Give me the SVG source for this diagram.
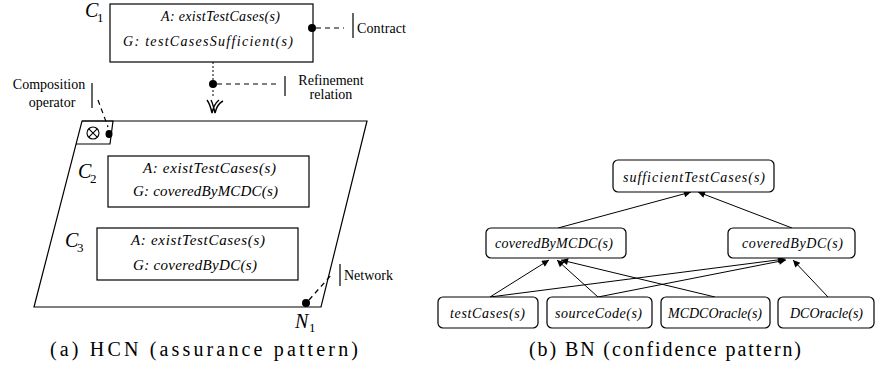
<svg xmlns="http://www.w3.org/2000/svg" width="876" height="373" viewBox="0 0 876 373">
<defs>
<style>
.bx{fill:#fff;stroke:#000;stroke-width:1.2}
.rb{fill:#fff;stroke:#000;stroke-width:1.2}
.ln{fill:none;stroke:#000;stroke-width:1.2}
.dash{fill:none;stroke:#000;stroke-width:1.2;stroke-dasharray:5,4}
.dot{fill:none;stroke:#000;stroke-width:1;stroke-dasharray:2,2}
.m{font-family:"Liberation Serif","DejaVu Serif",serif;font-style:italic;font-size:14px;fill:#000}
.m15{font-family:"Liberation Serif","DejaVu Serif",serif;font-style:italic;font-size:15px;fill:#000}
.lab{font-family:"Liberation Serif","DejaVu Serif",serif;font-style:italic;font-size:20px;fill:#000}
.sub{font-family:"Liberation Serif","DejaVu Serif",serif;font-size:13px;fill:#000}
.ann{font-family:"Liberation Serif","Times New Roman",serif;font-size:14px;fill:#000}
.cap{font-family:"Liberation Serif","Times New Roman",serif;font-size:20px;fill:#000}
.ar{fill:none;stroke:#000;stroke-width:1}
</style>
<marker id="ah" viewBox="0 0 10 10" refX="10" refY="5" markerWidth="9" markerHeight="7" markerUnits="userSpaceOnUse" orient="auto">
<path d="M0,0 L10,5 L0,10 z" fill="#000"/>
</marker>
</defs>

<!-- (a) HCN -->
<g id="network-N1">
<path class="ln" d="M82,121 L367,121 L321,307 L34,307 Z"/>
<text class="lab" x="295" y="328">N</text><text class="sub" x="309" y="332">1</text>
</g>
<g id="composition-operator">
<path class="ln" d="M82,121 L113,121 L110,144 L76,144"/>
<circle cx="93" cy="133" r="6" fill="none" stroke="#000" stroke-width="1.1"/>
<path d="M88.8,128.8 L97.2,137.2 M97.2,128.8 L88.8,137.2" stroke="#000" stroke-width="1.1"/>
<ellipse cx="109" cy="134" rx="3.5" ry="4" fill="#000"/>
</g>
<g id="contract-C1">
<rect class="bx" x="110" y="4" width="203" height="58"/>
<text class="lab" x="85" y="17">C</text><text class="sub" x="97" y="22">1</text>
<text class="m" x="161" y="21" textLength="119">A: existTestCases(s)</text>
<text class="m" x="123" y="46" textLength="170">G: testCasesSufficient(s)</text>
<circle cx="312" cy="28" r="4" fill="#000"/>
</g>
<g id="contract-C2">
<rect class="bx" x="108" y="156" width="201" height="51"/>
<text class="lab" x="78" y="178">C</text><text class="sub" x="90" y="183">2</text>
<text class="m15" x="143" y="173" textLength="133">A: existTestCases(s)</text>
<text class="m15" x="133" y="196" textLength="145">G: coveredByMCDC(s)</text>
</g>
<g id="contract-C3">
<rect class="bx" x="97" y="228" width="201" height="52"/>
<text class="lab" x="65" y="247">C</text><text class="sub" x="77" y="252">3</text>
<text class="m15" x="131" y="245" textLength="134">A: existTestCases(s)</text>
<text class="m15" x="133" y="270" textLength="124">G: coveredByDC(s)</text>
</g>
<g id="refinement">
<path class="dot" d="M213,62 L213,96"/>
<circle cx="213" cy="84" r="4" fill="#000"/>
<path d="M207,100 Q210,104 212,113 Q214,104 219,100 M211,100 Q213,104 215,113 Q217,104 223,101" fill="none" stroke="#000" stroke-width="1.4"/>
</g>
<g id="annotations">
<path class="dash" d="M316,28 L344,28"/>
<path class="ln" d="M353,13 L353,38"/>
<text class="ann" x="357" y="33" textLength="49">Contract</text>
<path class="dash" d="M217,84 L278,84"/>
<path class="ln" d="M285,76 L285,96"/>
<text class="ann" x="331" y="85" text-anchor="middle">Refinement</text>
<text class="ann" x="331" y="99" text-anchor="middle">relation</text>
<text class="ann" x="49" y="89" text-anchor="middle">Composition</text>
<text class="ann" x="52" y="107" text-anchor="middle">operator</text>
<path class="ln" d="M92,83 L92,108"/>
<path class="dash" d="M98,100 L108,127"/>
<circle cx="306" cy="303" r="4" fill="#000"/>
<path class="dash" d="M309,300 L332,274"/>
<path class="ln" d="M340,264 L340,286"/>
<text class="ann" x="344" y="280">Network</text>
</g>
<text class="cap" x="50" y="356" textLength="308">(a) HCN (assurance pattern)</text>

<!-- (b) BN -->
<g id="connectors">
<path class="ar" d="M558,228 L691,192" marker-end="url(#ah)"/>
<path class="ar" d="M792,228 L698,192" marker-end="url(#ah)"/>
<path class="ar" d="M490,297 L549,260" marker-end="url(#ah)"/>
<path class="ar" d="M490,297 L785,259" marker-end="url(#ah)"/>
<path class="ar" d="M598,297 L557,260" marker-end="url(#ah)"/>
<path class="ar" d="M598,297 L786,260" marker-end="url(#ah)"/>
<path class="ar" d="M715,297 L561,260" marker-end="url(#ah)"/>
<path class="ar" d="M828,297 L793,260" marker-end="url(#ah)"/>
</g>
<g id="sufficientTestCases">
<rect class="rb" x="613" y="160" width="161" height="32" rx="5"/>
<text class="m" x="623" y="182" textLength="142">sufficientTestCases(s)</text>
</g>
<g id="coveredByMCDC">
<rect class="rb" x="486" y="228" width="140" height="30" rx="5"/>
<text class="m" x="495" y="248" textLength="118">coveredByMCDC(s)</text>
</g>
<g id="coveredByDC">
<rect class="rb" x="728" y="228" width="127" height="30" rx="5"/>
<text class="m" x="742" y="248" textLength="101">coveredByDC(s)</text>
</g>
<g id="testCases">
<rect class="rb" x="438" y="297" width="100" height="31" rx="5"/>
<text class="m" x="450" y="318" textLength="75">testCases(s)</text>
</g>
<g id="sourceCode">
<rect class="rb" x="547" y="297" width="105" height="31" rx="5"/>
<text class="m" x="555" y="318" textLength="87">sourceCode(s)</text>
</g>
<g id="MCDCOracle">
<rect class="rb" x="661" y="297" width="109" height="31" rx="5"/>
<text class="m" x="668" y="318" textLength="94">MCDCOracle(s)</text>
</g>
<g id="DCOracle">
<rect class="rb" x="778" y="297" width="96" height="31" rx="5"/>
<text class="m" x="790" y="318" textLength="73">DCOracle(s)</text>
</g>
<text class="cap" x="529" y="356" textLength="272">(b) BN (confidence pattern)</text>
</svg>
